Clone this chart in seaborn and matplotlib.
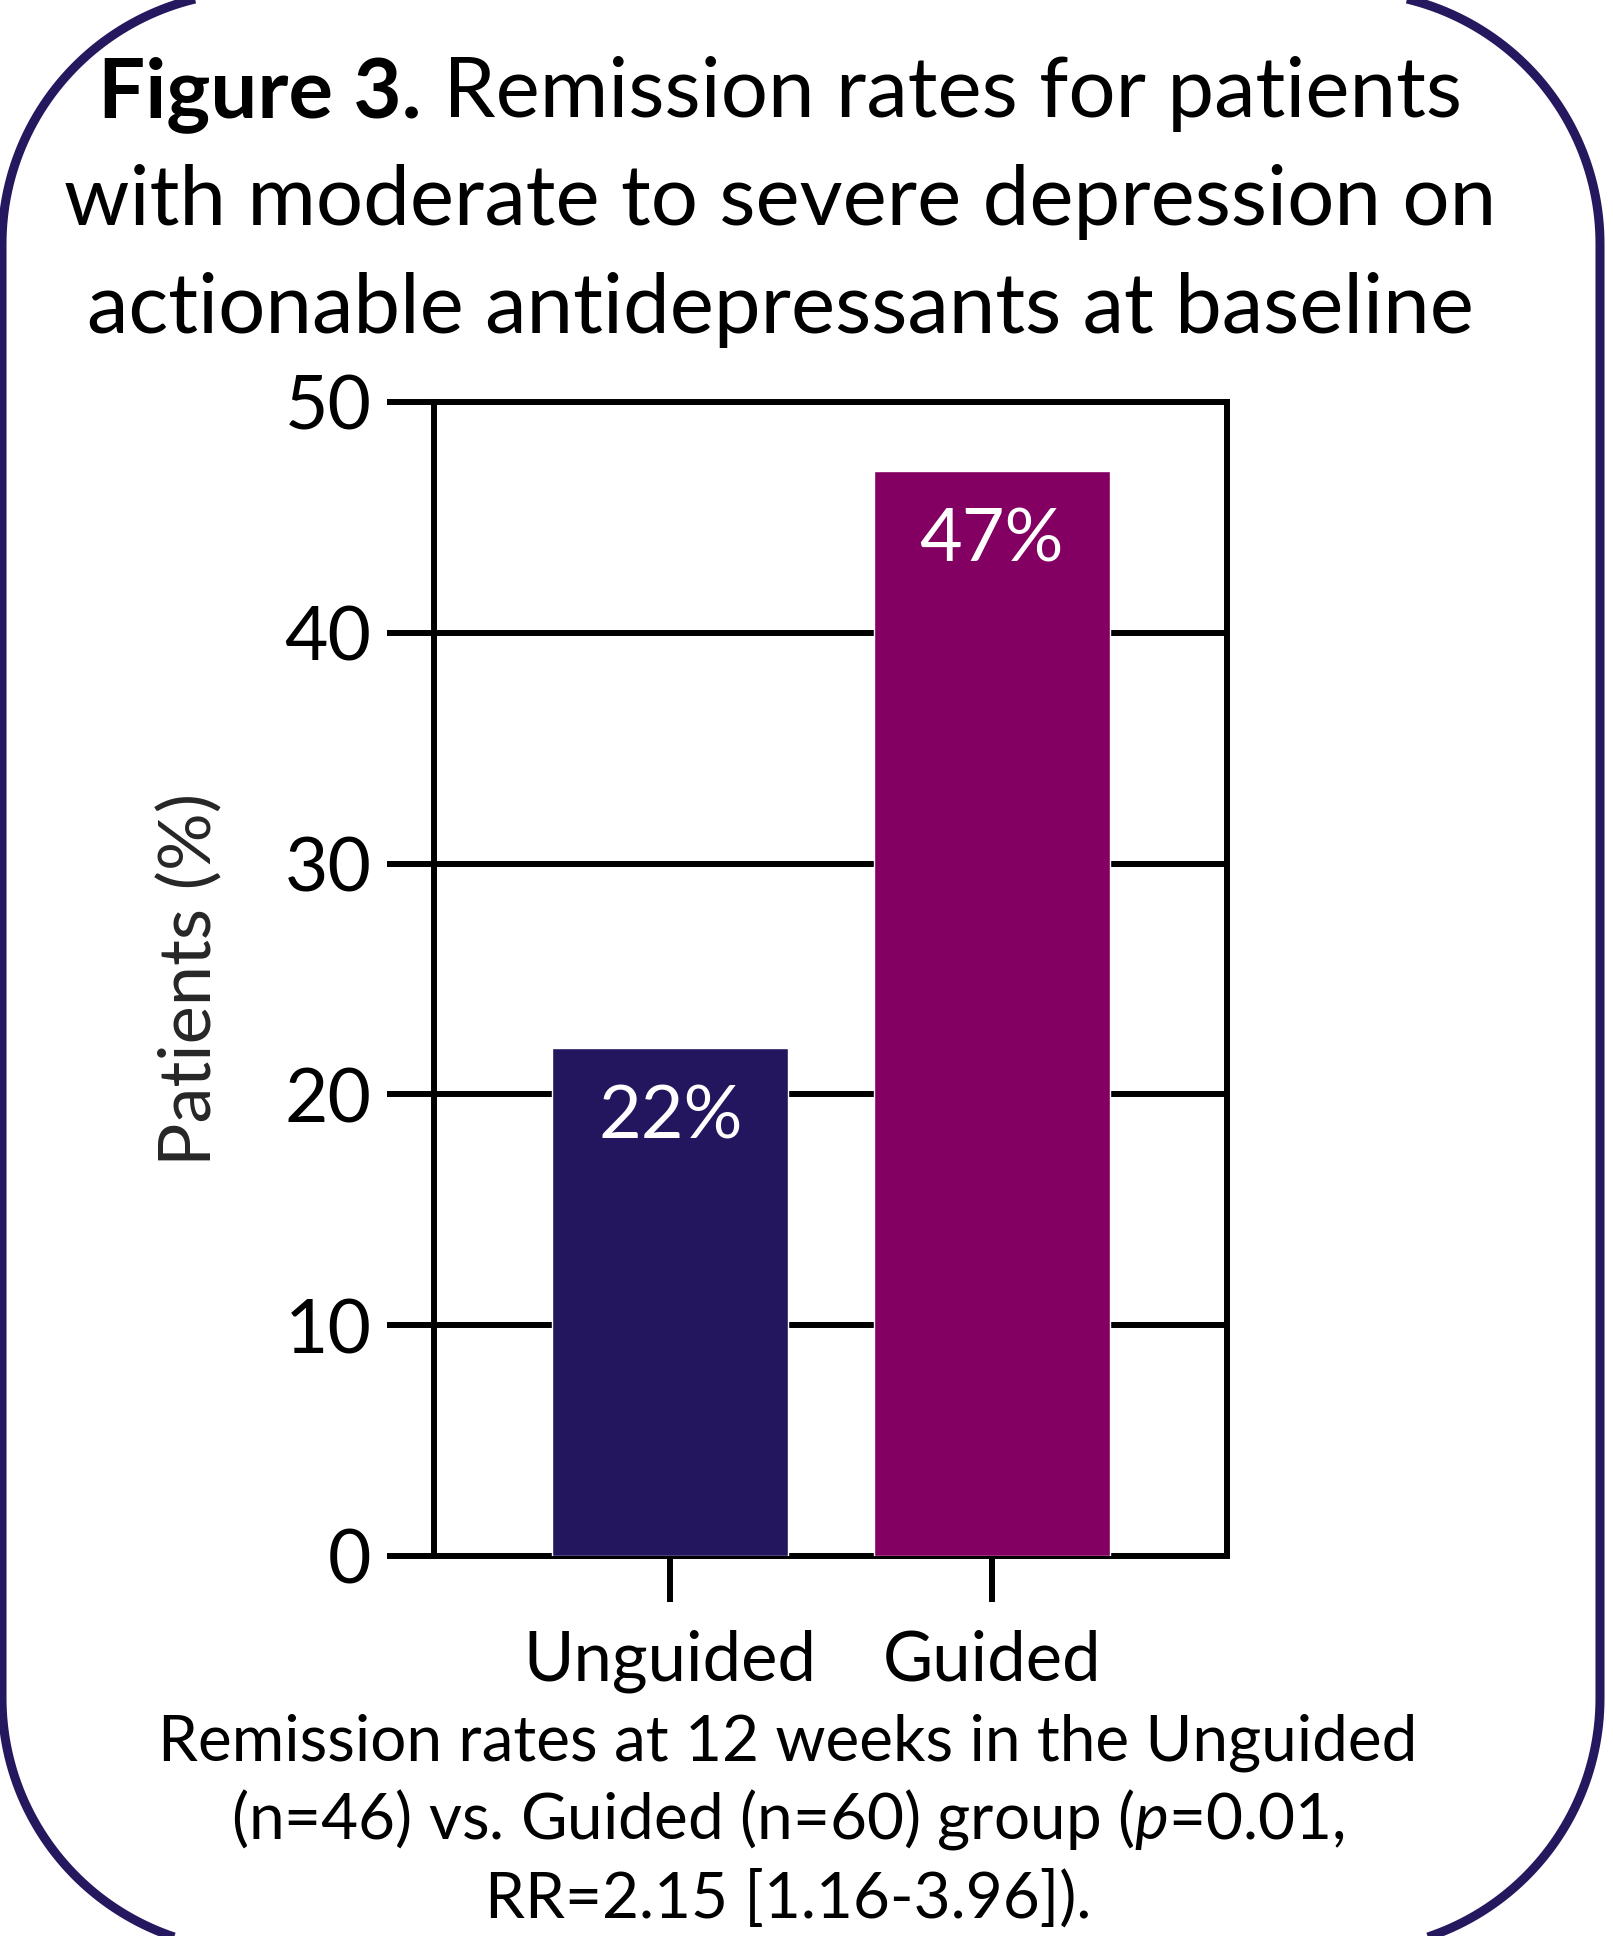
import matplotlib
matplotlib.use("Agg")
import matplotlib.pyplot as plt
from matplotlib.patches import Polygon
import numpy as np
import seaborn as sns
import pandas as pd

# Remission rates at 12 weeks
groups = ["Unguided", "Guided"]
remission_pct = [22, 47]
bar_colors = ["#24165E", "#830062"]
y_ticks = [0, 10, 20, 30, 40, 50]

title_bold = "Figure 3."
title_lines = [
    " Remission rates for patients",
    "with moderate to severe depression on",
    "actionable antidepressants at baseline",
]
caption_lines = [
    "Remission rates at 12 weeks in the Unguided",
    r"(n=46) vs. Guided (n=60) group ($p$=0.01,",
    "RR=2.15 [1.16-3.96]).",
]

sns.set_theme(style="white")
plt.rcParams["font.family"] = ["Lato", "DejaVu Sans"]
plt.rcParams["mathtext.fontset"] = "custom"
plt.rcParams["mathtext.rm"] = "Lato"
plt.rcParams["mathtext.it"] = "Lato:italic"
plt.rcParams["mathtext.bf"] = "Lato:bold"

W, H = 1613, 1936
fig = plt.figure(figsize=(W / 100, H / 100), dpi=100)
fig.patch.set_facecolor("white")

# Rounded frame around the panel, in pixel units (circular corners)
bg = fig.add_axes([0, 0, 1, 1])
bg.set_xlim(0, W)
bg.set_ylim(H, 0)
bg.axis("off")


def rounded_outline(x0, y0, x1, y1, r, n=60):
    pts = []
    corners = [((x1 - r, y0 + r), -90, 0), ((x1 - r, y1 - r), 0, 90),
               ((x0 + r, y1 - r), 90, 180), ((x0 + r, y0 + r), 180, 270)]
    for (cx, cy), a0, a1 in corners:
        t = np.radians(np.linspace(a0, a1, n))
        pts.append(np.column_stack([cx + r * np.cos(t), cy + r * np.sin(t)]))
    return np.vstack(pts)


bg.add_patch(Polygon(rounded_outline(2, -8, 1600, 1950, 252), closed=True,
                     facecolor="none", edgecolor="#25185E", linewidth=6.5))

# Bar chart
ax = fig.add_axes([434 / W, (H - 1556) / H, (1227 - 434) / W, (1556 - 402) / H])
df = pd.DataFrame({"group": groups, "pct": remission_pct})
sns.barplot(data=df, x="group", y="pct", hue="group", palette=bar_colors,
            width=0.735, saturation=1, legend=False, ax=ax, zorder=3)
ax.set_xlim(-0.735, 1.732)
ax.set_ylim(0, 50)
ax.set_yticks(y_ticks)
ax.set_xlabel("")
ax.set_ylabel("Patients (%)", fontsize=52, labelpad=44)
ax.yaxis.grid(True, color="black", linewidth=4.3, zorder=1)
ax.set_axisbelow(True)
for side in ["left", "right", "top", "bottom"]:
    ax.spines[side].set_visible(True)
    ax.spines[side].set_color("black")
    ax.spines[side].set_linewidth(4.3)
ax.tick_params(axis="y", direction="out", length=34, width=4.3, pad=11,
               labelsize=54, left=True, colors="black")
ax.tick_params(axis="x", direction="out", length=33, width=4.3, pad=20,
               labelsize=49.5, bottom=True, colors="black")

for i, v in enumerate(remission_pct):
    ax.text(i, v - 3.03, f"{v}%", ha="center", va="center",
            color="white", fontsize=53, zorder=4)

# Title: bold figure number followed by the regular-weight text, centred
renderer = fig.canvas.get_renderer()
title_size = 60
cx = 780
t_bold = fig.text(0, 0, title_bold, fontsize=title_size, fontweight="bold",
                  va="baseline", ha="left", color="black")
t_rest = fig.text(0, 0, title_lines[0], fontsize=title_size,
                  va="baseline", ha="left", color="black")
wb = t_bold.get_window_extent(renderer).width
wr = t_rest.get_window_extent(renderer).width
x_start = cx - (wb + wr) / 2
t_bold.set_position((x_start / W, 1 - 117 / H))
t_rest.set_position(((x_start + wb) / W, 1 - 117 / H))
for k, line in enumerate(title_lines[1:], start=1):
    fig.text(cx / W, 1 - (117 + 108 * k) / H, line, ha="center",
             va="baseline", fontsize=title_size, color="black")

for k, line in enumerate(caption_lines):
    fig.text(788 / W, 1 - (1760 + 79 * k) / H, line, ha="center",
             va="baseline", fontsize=46, color="black")

fig.savefig("out.png", dpi=100, facecolor="white")
